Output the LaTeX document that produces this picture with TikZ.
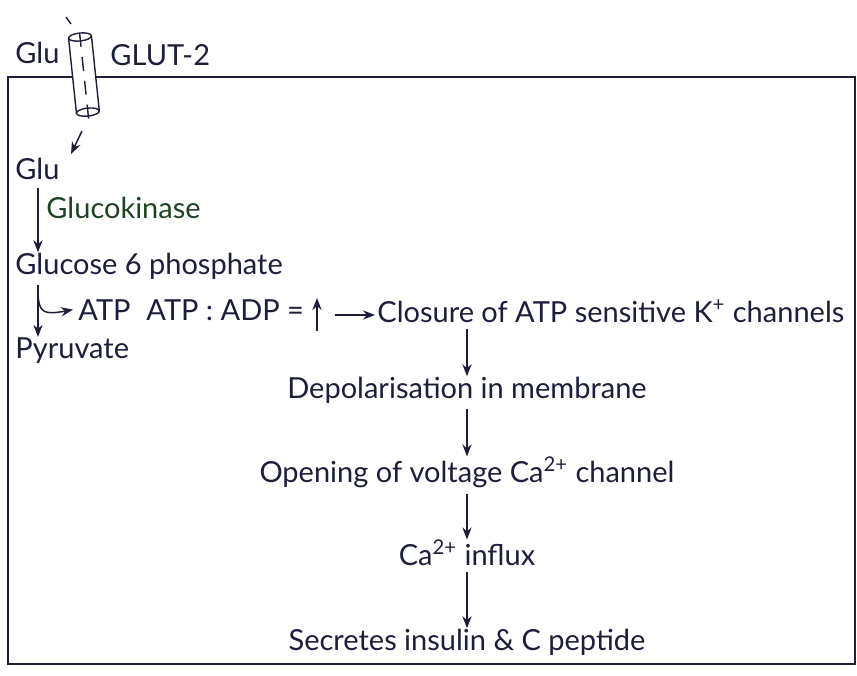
\documentclass[tikz,border=0pt]{standalone}
\usepackage{fontspec}
\setmainfont{Lato}
\usetikzlibrary{arrows.meta,calc}
\definecolor{ink}{RGB}{28,30,58}
\definecolor{inkgreen}{RGB}{30,66,36}
\begin{document}
\begin{tikzpicture}[x=0.5pt,y=-0.5pt,
  txt/.style={inner sep=0pt, text=ink, font=\fontsize{14.5}{17}\selectfont},
  lbl/.style={txt, anchor=base west},
  mid/.style={txt, anchor=base},
  arr/.style={draw=ink, line width=0.75pt, -{Stealth[length=6pt,width=4.6pt]}},
  thin/.style={draw=ink, line width=0.7pt},
  boxline/.style={draw=ink, line width=1pt},
  ]
\useasboundingbox (0,0) rectangle (857,675);
% cell boundary
\draw[boxline] (8,77) rectangle (855,664);

% GLUT-2 transporter
\coordinate (tick1) at (66,17);
\coordinate (tick2) at (71,24);
\draw[thin] (tick1) -- (tick2);
\begin{scope}[shift={(80,37)}, rotate=6]
  \fill[white] (-11.5,0) rectangle (11.5,75.5);
  \filldraw[thin, fill=white] (0,0) ellipse [x radius=11.5, y radius=4];
  \filldraw[thin, fill=white] (0,75.5) ellipse [x radius=11.5, y radius=4];
  \draw[thin] (-11.5,0) -- (-11.5,75.5);
  \draw[thin] (11.5,0) -- (11.5,75.5);
  \draw[thin, dash pattern=on 7pt off 5pt] (0,-4) -- (0,86);
\end{scope}
\coordinate (inA) at (82,131);
\coordinate (inB) at (71,154);
\draw[arr] (inA) -- (inB);

% labels outside
\node[lbl] (glu1) at (15,63) {Glu};
\node[lbl] (glut) at (110,65) {GLUT-2};

% left column
\node[lbl] (glu2) at (15,179) {Glu};
\node[lbl, text=inkgreen] (gk) at (46,218) {Glucokinase};
\node[lbl] (g6p) at (15,274) {Glucose 6 phosphate};
\node[lbl] (atp1) at (78,320) {ATP};
\node[lbl] (ratio) at (146,320) {ATP : ADP =};
\node[lbl] (pyr) at (15,358) {Pyruvate};

\coordinate (colx) at (38,0);
\draw[arr] ($(glu2.south -| colx)+(0,8)$) -- (g6p.north -| colx);
\draw[arr] ($(g6p.south -| colx)+(0,6)$) -- (pyr.north -| colx);
\coordinate (br) at (38,294);
\draw[arr] (br) .. controls (39,313) and (44,315) .. ($(atp1.west)+(-5,0)$);

% ratio up arrow and right arrow
\coordinate (upb) at (317,331);
\coordinate (upt) at (317,298);
\draw[arr] (upb) -- (upt);
\node[lbl] (closure) at (377,322) {Closure of ATP sensitive K\textsuperscript{+} channels};
\coordinate (rs) at (335,315);
\draw[arr] (rs) -- ($(closure.west |- rs)+(-2,0)$);

% central column
\node[mid] (depol) at (467,398) {Depolarisation in membrane};
\node[mid] (open) at (467,482) {Opening of voltage Ca\textsuperscript{2+} channel};
\node[mid] (influx) at (467,565) {Ca\textsuperscript{2+} influx};
\node[mid] (secr) at (467,650) {Secretes insulin \& C peptide};

\draw[arr] ($(closure.south -| depol.north)+(0,6)$) -- (depol.north);
\draw[arr] ($(depol.south)+(0,6)$) -- (open.north);
\draw[arr] ($(open.south)+(0,6)$) -- (influx.north);
\draw[arr] ($(influx.south)+(0,6)$) -- (secr.north);
\end{tikzpicture}
\end{document}
